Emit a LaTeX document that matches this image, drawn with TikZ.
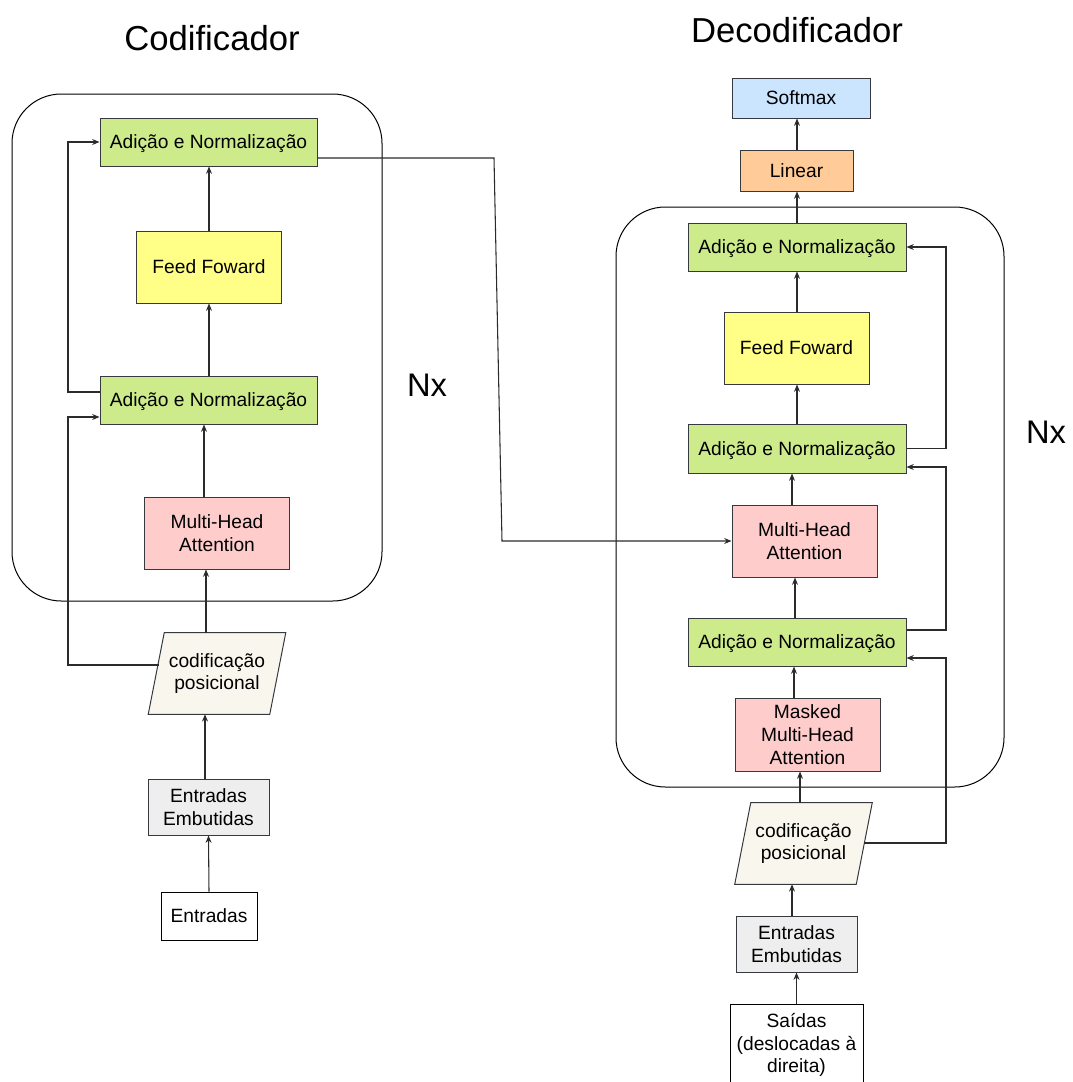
\documentclass[tikz,border=0pt]{standalone}
\usepackage{fontspec}
\setmainfont{Liberation Sans}
\usetikzlibrary{arrows.meta,calc,backgrounds}

\definecolor{strk}{HTML}{36393D}
\definecolor{addnorm}{HTML}{CDEB8B}
\definecolor{ffwd}{HTML}{FFFF88}
\definecolor{attn}{HTML}{FFCCCC}
\definecolor{soft}{HTML}{CCE5FF}
\definecolor{lin}{HTML}{FFCC99}
\definecolor{posenc}{HTML}{F9F7ED}
\definecolor{embed}{HTML}{EEEEEE}
\definecolor{wire}{HTML}{2B2B2B}

\begin{document}
\begin{tikzpicture}[x=0.75pt,y=-0.75pt,
  sz/.style 2 args={minimum width=#1*0.75pt, minimum height=#2*0.75pt},
  blk/.style={draw=strk, line width=0.75pt, align=center, inner sep=0pt,
    font=\fontsize{14.4}{17}\selectfont},
  an/.style={blk, fill=addnorm, sz={217}{48}, text depth=0pt},
  ff/.style={blk, fill=ffwd, sz={145}{72}},
  att/.style={blk, fill=attn, sz={145}{72}},
  emb/.style={blk, fill=embed, sz={121}{56}},
  pe/.style={align=center, inner sep=0pt, sz={137}{81},
    font=\fontsize{14.4}{17}\selectfont},
  pgram/.style={draw=strk, fill=posenc, line width=0.75pt},
  frame/.style={draw=black, line width=0.75pt, rounded corners=37pt, inner sep=0pt},
  title/.style={font=\fontsize{26}{30}\selectfont},
  rep/.style={font=\fontsize{24.5}{28}\selectfont},
  arr/.style={draw=wire, line width=0.8pt, -{Stealth[length=5.5pt,width=4.5pt,inset=1.8pt]}}
]
\useasboundingbox (0,0) rectangle (1072,1082);

% ---------------- Encoder ----------------
\node[title] (enctitle) at (212,38) {Codificador};
\node[frame, sz={370}{507}] (encbox) at (197,347.5) {};
\node[rep] (encnx) at (427,385) {Nx};

\node[an] (ean1) at (208.5,142) {Adição e Normalização};
\node[ff] (eff) at (209,267) {Feed Foward};
\node[an] (ean2) at (208.5,400) {Adição e Normalização};
\node[att] (emha) at (217,533) {Multi-Head\\Attention};
\node[pe] (epe) at (217,673.5) {codificação\\posicional};
\node[emb] (eemb) at (208.5,807) {Entradas\\Embutidas};
\node[blk, draw=black, fill=white, sz={96}{48}] (ein) at (209,916) {Entradas};

\begin{scope}[on background layer]
  \draw[pgram] (epe.south west) -- ($(epe.south east)+(-16,0)$)
    -- (epe.north east) -- ($(epe.north west)+(16,0)$) -- cycle;
\end{scope}
\coordinate (epeL) at (158.7,665);

\draw[arr] (ein.north) -- (eemb.south);
\draw[arr] ($(eemb.north)+(-3.5,0)$) -- ($(epe.south)+(-12,0)$);
\draw[arr] ($(epe.north)+(-11,0)$) -- ($(emha.south)+(-11,0)$);
\draw[arr] ($(emha.north)+(-13,0)$) -- ($(ean2.south)+(-4.5,0)$);
\draw[arr] ($(ean2.north)+(0.5,0)$) -- ($(eff.south)$);
\draw[arr] (eff.north) -- ($(ean1.south)+(0.5,0)$);

% residual paths of the encoder
\draw[arr] (epeL) -- (68,665) -- (68,417) -- ($(ean2.west)+(0,17)$);
\draw[arr] ($(ean2.west)+(0,-8)$) -- (68,392) -- (68,142) -- (ean1.west);

% ---------------- Decoder ----------------
\node[title] (dectitle) at (797,30) {Decodificador};
\node[frame, sz={388}{580}] (decbox) at (810,497) {};
\node[rep] (decnx) at (1046,432) {Nx};

\node[blk, fill=soft, sz={138}{40}] (dsoft) at (801,98) {Softmax};
\node[blk, fill=lin, sz={113}{41}] (dlin) at (796.5,170.5) {Linear};
\node[an, sz={218}{48}] (dan3) at (797,247) {Adição e Normalização};
\node[ff] (dff) at (796.5,348) {Feed Foward};
\node[an, sz={218}{49}] (dan2) at (797,448.5) {Adição e Normalização};
\node[att] (dmha) at (804.5,541) {Multi-Head\\Attention};
\node[an, sz={218}{48}] (dan1) at (797,642) {Adição e Normalização};
\node[att, sz={145}{73}] (dmmha) at (807.5,734.5) {Masked\\Multi-Head\\Attention};
\node[pe] (dpe) at (803.5,843.5) {codificação\\posicional};
\node[emb] (demb) at (796.5,944) {Entradas\\Embutidas};
\node[blk, draw=black, fill=white, sz={133}{82}] (dout) at (796.5,1045) {Saídas\\(deslocadas à\\direita)};

\begin{scope}[on background layer]
  \draw[pgram] (dpe.south west) -- ($(dpe.south east)+(-16,0)$)
    -- (dpe.north east) -- ($(dpe.north west)+(16,0)$) -- cycle;
\end{scope}
\coordinate (dpeR) at (864,843);

\draw[arr] (dout.north) -- (demb.south);
\draw[arr] ($(demb.north)+(-4.5,0)$) -- ($(dpe.south)+(-11.5,0)$);
\draw[arr] ($(dpe.north)+(-3.5,0)$) -- ($(dmmha.south)+(-7.5,0)$);
\draw[arr] ($(dmmha.north)+(-13.5,0)$) -- ($(dan1.south)+(-3,0)$);
\draw[arr] ($(dan1.north)+(-2,0)$) -- ($(dmha.south)+(-9.5,0)$);
\draw[arr] ($(dmha.north)+(-12.5,0)$) -- ($(dan2.south)+(-5,0)$);
\draw[arr] (dan2.north) -- ($(dff.south)+(0.5,0)$);
\draw[arr] ($(dff.north)+(0.5,0)$) -- (dan3.south);
\draw[arr] (dan3.north) -- ($(dlin.south)+(0.5,0)$);
\draw[arr] ($(dlin.north)+(0.5,0)$) -- ($(dsoft.south)+(-4,0)$);

% residual paths of the decoder
\draw[arr] (dpeR) -- (946,843) -- (946,658) -- ($(dan1.east)+(0,16)$);
\draw[arr] ($(dan1.east)+(0,-12)$) -- (946,630) -- (946,467) -- ($(dan2.east)+(0,18.5)$);
\draw[arr] (dan2.east) -- (946,448.5) -- (946,247) -- (dan3.east);

% encoder output feeding the decoder attention
\draw[arr] ($(ean1.east)+(0,16)$) -- (494,158) -- (502,541) -- (dmha.west);
\end{tikzpicture}
\end{document}
